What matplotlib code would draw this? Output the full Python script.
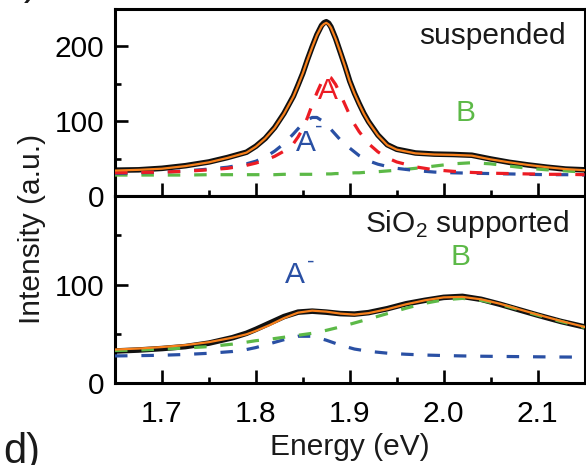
import matplotlib
matplotlib.use("Agg")
import matplotlib.pyplot as plt
from matplotlib.ticker import MultipleLocator, FixedLocator
import matplotlib.transforms as mtransforms

plt.rcParams['font.family'] = ['Liberation Sans', 'DejaVu Sans']
plt.rcParams['mathtext.fontset'] = 'custom'
plt.rcParams['mathtext.rm'] = 'Liberation Sans'
plt.rcParams['lines.scale_dashes'] = False

# ---- suspended monolayer ----
energy_top = [1.65, 1.675, 1.70, 1.725, 1.75, 1.77, 1.79, 1.80, 1.81, 1.82,
              1.83, 1.84, 1.845, 1.85, 1.855, 1.86, 1.865, 1.87, 1.8725, 1.875,
              1.8775, 1.88, 1.885, 1.89, 1.895, 1.90, 1.905, 1.91, 1.915, 1.92,
              1.93, 1.94, 1.95, 1.97, 1.99, 2.01, 2.03, 2.05, 2.07, 2.09,
              2.11, 2.13, 2.15]
data_top = [34.5, 35, 37, 40.5, 45.5, 51.5, 58.5, 66.5, 77, 91.5,
            110.5, 133.5, 148.5, 164, 182.5, 199.5, 215.5, 228, 231.5, 233,
            231, 226, 210.5, 192, 173.5, 153.5, 137.5, 123.5, 110.5, 99.5,
            81.5, 68.5, 62.5, 57.5, 56, 55.5, 54.5, 49.5, 45, 41.5,
            38.5, 36, 35]
fit_top = [34, 35, 36.5, 40, 45, 51, 58, 66, 77, 91,
           110, 133, 148, 164, 182, 199, 215, 227, 230, 231.5,
           229.5, 225, 210, 192, 173, 153, 137, 123, 110, 99,
           81, 68, 62, 57, 55.5, 55, 54, 49, 45, 41.5,
           38.5, 36, 34.5]
peak_A_top = [31, 31.5, 32, 33, 35, 37, 41, 44, 48, 53,
              60, 70, 79, 90, 105, 122, 138, 152, 157, 160,
              159.5, 158, 149, 136, 122, 108, 96, 86, 78, 70,
              59, 51, 45.5, 39, 35, 33, 31.5, 30.5, 30, 29.5,
              29, 29, 28.5]
peak_Am_top = [30, 31, 32, 33.5, 36, 38.5, 43, 46.5, 52, 60,
               70, 83, 90, 97, 102, 105, 105, 101, 98, 95,
               92, 89, 82, 75, 69.5, 64, 59, 54, 50.5, 47,
               42.5, 39.5, 37, 34, 32, 31, 30.5, 30, 29.5, 29,
               28.5, 28.5, 28]
peak_B_top = [28, 28, 28, 28, 28.5, 28.5, 28.5, 28.5, 28.5, 28.5,
              29, 29, 29, 29, 29, 29, 29, 29.5, 29.5, 29.5,
              29.5, 29.5, 30, 30, 30, 30.5, 31, 31, 31.5, 32,
              32.5, 33.5, 34.5, 37, 40, 43, 44.5, 43, 40, 37,
              35, 33.5, 32]

# ---- SiO2 supported monolayer ----
energy_bot = [1.65, 1.675, 1.70, 1.725, 1.75, 1.775, 1.79, 1.80, 1.815, 1.83,
              1.845, 1.86, 1.875, 1.89, 1.905, 1.92, 1.94, 1.96, 1.98, 2.00,
              2.02, 2.04, 2.06, 2.08, 2.10, 2.125, 2.15]
data_bot = [32.5, 33.5, 35, 37, 40.5, 46, 50.5, 54.5, 61, 67.5,
            72, 73, 72, 70.5, 70, 71.5, 75.5, 80.5, 84, 87,
            88, 85, 80, 74.5, 69, 62.5, 57]
fit_bot = [34, 35, 36.5, 38.5, 41.5, 46, 49.5, 53, 59, 66,
           71.5, 73.5, 72.5, 70.5, 69.5, 71, 75, 80, 84, 87,
           87.5, 85, 80.5, 75, 69.5, 63, 57]
peak_Am_bot = [27.5, 27.8, 28.2, 29, 30.2, 32, 34, 36, 40, 44,
               47.5, 47.5, 43.5, 38.5, 34.5, 32.2, 30.3, 29.2, 28.4, 27.9,
               27.5, 27.2, 27, 26.8, 26.6, 26.4, 26.3]
peak_B_bot = [33, 33.5, 34.5, 35.5, 37, 39.5, 41.5, 43, 44.5, 46.5,
              48.5, 50.5, 53.5, 57, 61, 65, 70.5, 76, 81, 84.5,
              86, 84, 80, 74.5, 69, 62.5, 56.5]

x_ticks = [1.7, 1.8, 1.9, 2.0, 2.1]
x_ticklabels = ['1.7', '1.8', '1.9', '2.0', '2.1']

RED = '#ec1c24'
BLUE = '#2a50a4'
GREEN = '#5cb947'
ORANGE = '#f7801c'
FS = 21.5
DASH = (0, (9, 10))

W, H = 586, 465
fig = plt.figure(figsize=(W / 100, H / 100), dpi=100)
left = 115 / W
width = 469.5 / W
ax1 = fig.add_axes([left, 1 - 196 / H, width, 187 / H])
ax2 = fig.add_axes([left, 1 - 383 / H, width, 187 / H])


def style_axis(ax, ymax, yticks, show_xlabels):
    ax.set_xlim(1.65, 2.15)
    ax.set_ylim(0, ymax)
    for s in ax.spines.values():
        s.set_linewidth(2.2)
    ax.xaxis.set_major_locator(FixedLocator(x_ticks))
    ax.xaxis.set_minor_locator(MultipleLocator(0.05))
    ax.yaxis.set_major_locator(FixedLocator(yticks))
    ax.yaxis.set_minor_locator(MultipleLocator(50))
    ax.tick_params(which='both', direction='in', top=False, right=False,
                   width=1.9, labelsize=FS)
    ax.tick_params(which='major', length=9.5)
    ax.tick_params(which='minor', length=4.5)
    ax.tick_params(axis='y', pad=7.5)
    ax.tick_params(axis='x', pad=12)
    ax.set_yticklabels([str(v) for v in yticks])
    if show_xlabels:
        ax.set_xticklabels(x_ticklabels)
    else:
        ax.set_xticklabels([])


# top panel
ax1.plot(energy_top, data_top, color='#111111', lw=4.0, zorder=2)
ax1.plot(energy_top, peak_B_top, color=GREEN, lw=2.3, ls=DASH, zorder=3)
ax1.plot(energy_top, peak_Am_top, color=BLUE, lw=2.3, ls=DASH, zorder=3)
ax1.plot(energy_top, peak_A_top, color=RED, lw=2.3, ls=DASH, zorder=3)
ax1.plot(energy_top, fit_top, color=ORANGE, lw=1.6, zorder=4)
style_axis(ax1, 250, [0, 100, 200], False)

ax1.text(0.9597, 0.813, 'suspended', transform=ax1.transAxes, ha='right',
         va='baseline', fontsize=FS, color='#1a1a1a')
ax1.text(1.877, 140, 'A', color=RED, fontsize=FS, ha='center', va='center')
ax1.text(1.8535, 71, 'A', color=BLUE, fontsize=FS, ha='center', va='center')
ax1.text(1.8535, 71, '-', color=BLUE, fontsize=FS * 0.75, ha='center', va='center',
         transform=mtransforms.offset_copy(ax1.transData, fig=fig, x=9.0, y=11.5,
                                           units='points'))
ax1.text(2.023, 111.5, 'B', color=GREEN, fontsize=FS, ha='center', va='center')

# bottom panel
ax2.plot(energy_bot, data_bot, color='#111111', lw=4.0, zorder=2)
ax2.plot(energy_bot, peak_Am_bot, color=BLUE, lw=2.3, ls=DASH, zorder=3)
ax2.plot(energy_bot, peak_B_bot, color=GREEN, lw=2.3, ls=DASH, zorder=3)
ax2.plot(energy_bot, fit_bot, color=ORANGE, lw=1.6, zorder=4)
style_axis(ax2, 190, [0, 100], True)

ax2.text(0.966, 0.807, r'SiO$_\mathregular{2}$ supported', transform=ax2.transAxes,
         ha='right', va='baseline', fontsize=FS, color='#1a1a1a')
ax2.text(1.842, 109.4, 'A', color=BLUE, fontsize=FS, ha='center', va='center')
ax2.text(1.842, 109.4, '-', color=BLUE, fontsize=FS * 0.75, ha='center', va='center',
         transform=mtransforms.offset_copy(ax2.transData, fig=fig, x=11.0, y=9.5,
                                           units='points'))
ax2.text(2.018, 127.7, 'B', color=GREEN, fontsize=FS, ha='center', va='center')

# shared axis titles and panel letters
fig.text(31.7 / W, 1 - 229 / H, 'Intensity (a.u.)', rotation=90, ha='center',
         va='center', fontsize=FS, color='#1a1a1a')
fig.text(350 / W, 1 - 455 / H, 'Energy (eV)', ha='center', va='baseline',
         fontsize=FS, color='#1a1a1a')
fig.text(3 / W, 1 - 463 / H, 'd)', ha='left', va='baseline', fontsize=30,
         color='#1a1a1a')
fig.text(3 / W, 1 + 6 / H, 'c)', ha='left', va='baseline', fontsize=30,
         color='#1a1a1a')

fig.savefig('out.png', dpi=100)
